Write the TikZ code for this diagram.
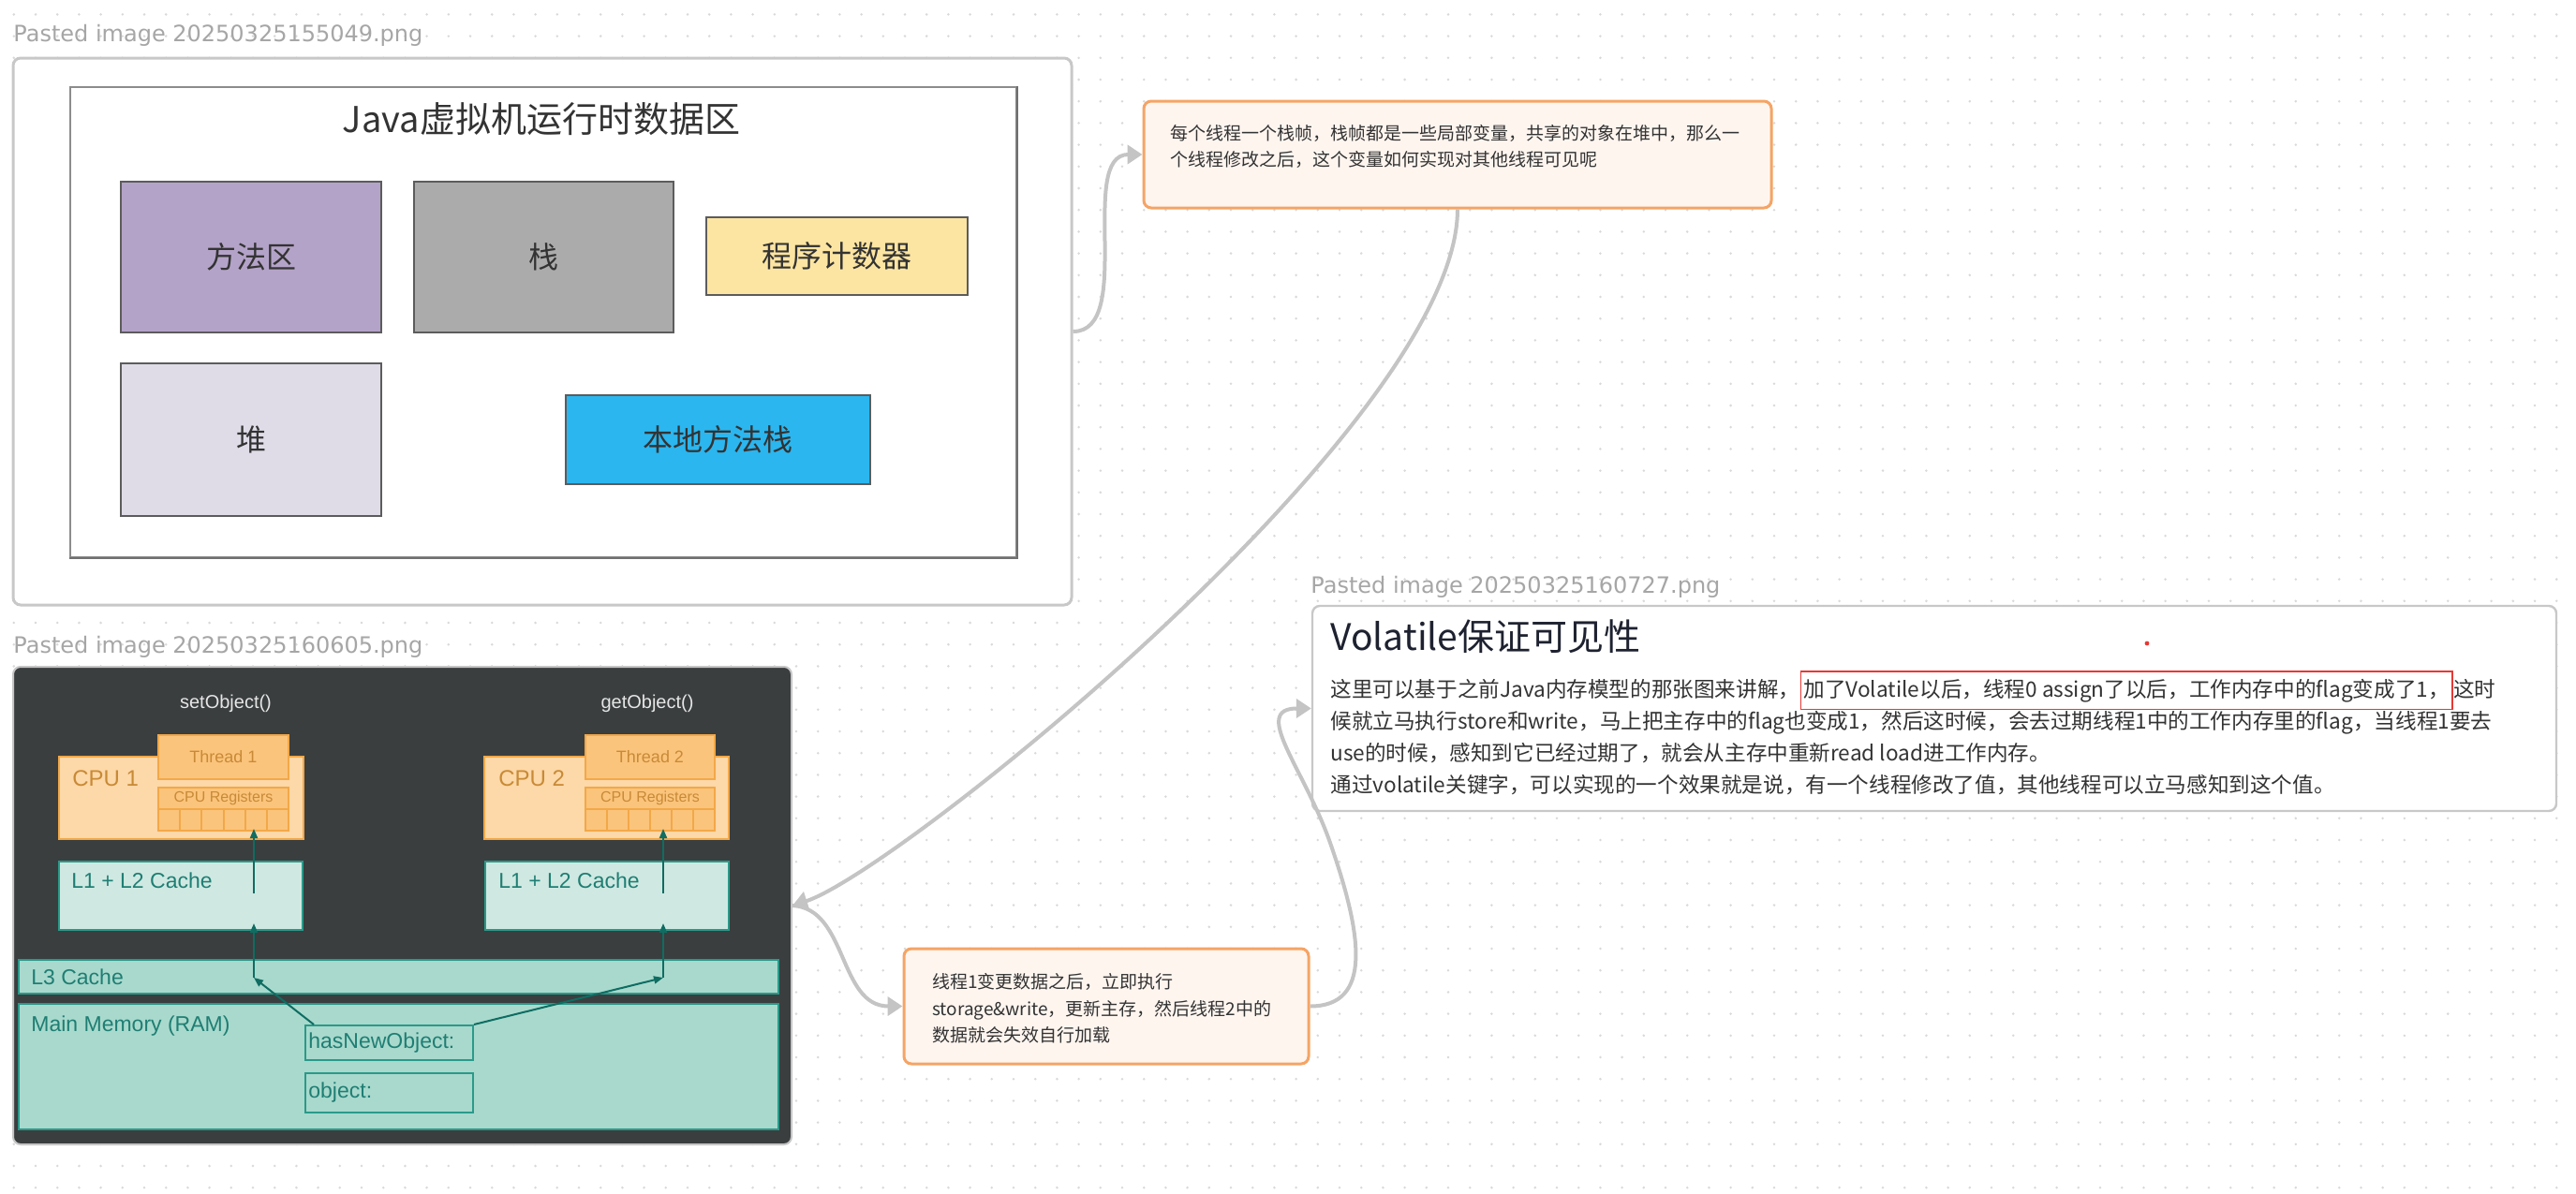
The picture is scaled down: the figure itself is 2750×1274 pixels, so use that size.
\documentclass[tikz,border=0pt]{standalone}
\usepackage{fontspec}
\setmainfont{Noto Sans CJK SC}
\newfontfamily\arialf{Liberation Sans}
\newfontfamily\dejaf{DejaVu Sans}
\usetikzlibrary{arrows.meta,calc}
\definecolor{dotc}{HTML}{D9D9D9}
\definecolor{lblc}{HTML}{A6A6A6}
\definecolor{boxborder}{HTML}{C8C8C8}
\definecolor{framec}{HTML}{8C8C8C}
\definecolor{fangc}{HTML}{B4A3C8}
\definecolor{zhanc}{HTML}{ABABAB}
\definecolor{pcc}{HTML}{FCE5A2}
\definecolor{duic}{HTML}{DFDCE8}
\definecolor{natc}{HTML}{2BB6EF}
\definecolor{inkc}{HTML}{333333}
\definecolor{notefill}{HTML}{FEF5EF}
\definecolor{noteborder}{HTML}{F5A465}
\definecolor{connc}{HTML}{C4C4C4}
\definecolor{redc}{HTML}{E53935}
\definecolor{darkc}{HTML}{3A3E3F}
\definecolor{orb}{HTML}{F2A848}
\definecolor{cpuf}{HTML}{FDD8A8}
\definecolor{thrf}{HTML}{FBC47C}
\definecolor{ortext}{HTML}{C88A36}
\definecolor{l1f}{HTML}{CFE9E2}
\definecolor{tealb}{HTML}{2A9A8A}
\definecolor{l3f}{HTML}{A9D9CD}
\definecolor{tealt}{HTML}{1F7E73}
\definecolor{arrt}{HTML}{0F6D62}
\definecolor{wtext}{HTML}{E6E6E6}
\definecolor{titlec}{HTML}{1E2230}
\tikzset{
  lbl/.style={font=\dejaf\fontsize{12pt}{14pt}\selectfont, text=lblc, anchor=west, inner sep=0},
  jbox/.style={draw=inkc!80, line width=0.8pt, font=\fontsize{16pt}{18pt}\selectfont, text=inkc, inner sep=0},
  notebox/.style={draw=noteborder, fill=notefill, line width=1.5pt, rounded corners=4pt, inner sep=0},
  notetext/.style={font=\fontsize{9.5pt}{14.25pt}\selectfont, text=inkc, align=left, anchor=west, inner sep=0},
  vtext/.style={font=\fontsize{11.3pt}{17pt}\selectfont, text=inkc, inner sep=0, anchor=base west},
  cpubox/.style={draw=orb, fill=cpuf, line width=1pt, inner sep=0},
  thrbox/.style={draw=orb, fill=thrf, line width=1pt, inner sep=0, font=\arialf\fontsize{9pt}{10pt}\selectfont, text=ortext},
  cpulbl/.style={font=\arialf\fontsize{12pt}{13pt}\selectfont, text=ortext, anchor=west, inner sep=0},
  cachebox/.style={draw=tealb, fill=l1f, line width=1pt, inner sep=0},
  membox/.style={draw=tealb, fill=l3f, line width=1pt, inner sep=0},
  teallbl/.style={font=\arialf\fontsize{11.5pt}{13pt}\selectfont, text=tealt, anchor=west, inner sep=0},
  tealarr/.style={draw=arrt, line width=1pt, -{Triangle[length=5pt,width=4pt]}},
  conn/.style={draw=connc, line width=2pt, -{Triangle[length=8pt,width=10pt]}}
}
\begin{document}
\begin{tikzpicture}[x=0.5pt,y=-0.5pt]
\useasboundingbox (0,0) rectangle (2750,1274);
\fill[white] (0,0) rectangle (2750,1274);
% dot grid
\foreach \i in {0,...,118}{
  \foreach \j in {0,...,54}{
    \fill[dotc] ({14.8+\i*23.2},{15.4+\j*23.2}) circle[radius=0.7pt];
  }
}
% ---------------- box 1 ----------------
\node[lbl] (lbl1) at (14,38) {Pasted image 20250325155049.png};
\node[draw=boxborder, fill=white, line width=1.5pt, rounded corners=4pt, minimum width=565pt, minimum height=292pt, inner sep=0] (box1) at (579,354) {};
\node[draw=framec, line width=1pt, minimum width=505pt, minimum height=251pt, inner sep=0] (frame) at (580,344) {};
\draw[inkc!70, line width=1pt] (frame.south west) -- (frame.south east) -- (frame.north east);
\node[font=\fontsize{19pt}{21pt}\selectfont, text=inkc, inner sep=0] (jtitle) at (578,127) {Java虚拟机运行时数据区};
\node[jbox, fill=fangc, minimum width=139pt, minimum height=80.5pt] (fang) at (268,274.5) {方法区};
\node[jbox, fill=zhanc, minimum width=138.5pt, minimum height=80.5pt] (zhan) at (580.5,274.5) {栈};
\node[jbox, fill=pcc, minimum width=139.5pt, minimum height=41.5pt] (pc) at (893.5,273.5) {程序计数器};
\node[jbox, fill=duic, minimum width=139pt, minimum height=81.5pt] (dui) at (268,469.5) {堆};
\node[jbox, fill=natc, minimum width=162.5pt, minimum height=47.5pt] (nat) at (766.5,469.5) {本地方法栈};
% ---------------- note 1 ----------------
\node[notebox, minimum width=335pt, minimum height=57pt] (note1) at (1556,165) {};
\node[notetext] (note1t) at (1249,156.5) {每个线程一个栈帧，栈帧都是一些局部变量，共享的对象在堆中，那么一\\个线程修改之后，这个变量如何实现对其他线程可见呢};
% ---------------- box 2 ----------------
\node[lbl] (lbl2) at (14,691) {Pasted image 20250325160605.png};
\node[draw=gray!45, fill=darkc, line width=1pt, rounded corners=4pt, minimum width=415.5pt, minimum height=255pt, inner sep=0] (box2) at (429.5,967) {};
\node[font=\arialf\fontsize{10pt}{11pt}\selectfont, text=wtext, inner sep=0] (setobj) at (241,751) {setObject()};
\node[font=\arialf\fontsize{10pt}{11pt}\selectfont, text=wtext, inner sep=0] (getobj) at (691,751) {getObject()};
% CPU 1
\node[cpubox, minimum width=130.5pt, minimum height=44pt] (cpu1) at (193.5,852) {};
\node[thrbox, minimum width=69.5pt, minimum height=23.5pt] (thr1) at (238.5,808.5) {Thread 1};
\node[cpulbl] (cpu1l) at (77,831) {CPU 1};
\node[thrbox, font=\arialf\fontsize{8pt}{9pt}\selectfont, minimum width=69.5pt, minimum height=11.5pt] (reg1) at (238.5,852.5) {CPU Registers};
\foreach \k in {0,...,5}{\draw[draw=orb, fill=thrf, line width=1pt] ({169+\k*23.17},864) rectangle ++(23.17,23);}
% CPU 2
\node[cpubox, minimum width=130.5pt, minimum height=44pt] (cpu2) at (647.5,852) {};
\node[thrbox, minimum width=69pt, minimum height=23.5pt] (thr2) at (694,808.5) {Thread 2};
\node[cpulbl] (cpu2l) at (532,831) {CPU 2};
\node[thrbox, font=\arialf\fontsize{8pt}{9pt}\selectfont, minimum width=69pt, minimum height=11.5pt] (reg2) at (694,852.5) {CPU Registers};
\foreach \k in {0,...,5}{\draw[draw=orb, fill=thrf, line width=1pt] ({625+\k*23},864) rectangle ++(23,23);}
% caches
\node[cachebox, minimum width=130pt, minimum height=36.5pt] (l1a) at (193,956.5) {};
\node[teallbl] (l1al) at (76,940) {L1 + L2 Cache};
\node[cachebox, minimum width=130pt, minimum height=36.5pt] (l1b) at (648,956.5) {};
\node[teallbl] (l1bl) at (532,940) {L1 + L2 Cache};
\node[membox, minimum width=405.5pt, minimum height=18pt] (l3) at (425.5,1043) {};
\node[teallbl] (l3l) at (33,1043) {L3 Cache};
\node[membox, minimum width=405.5pt, minimum height=67pt] (mm) at (425.5,1139) {};
\node[teallbl] (mml) at (33,1096) {Main Memory (RAM)};
\node[membox, minimum width=89.5pt, minimum height=18.5pt] (hasnew) at (415.5,1113.5) {};
\node[teallbl] (hasnewl) at (329,1113.5) {hasNewObject:};
\node[membox, minimum width=89.5pt, minimum height=21pt] (obj) at (415.5,1167) {};
\node[teallbl] (objl) at (329,1167) {object:};
% teal arrows
\coordinate (cl) at (271,1044);
\coordinate (cla) at (271,986);
\coordinate (clb) at (271,954);
\coordinate (clc) at (271,885);
\coordinate (cr) at (708,1044);
\coordinate (cra) at (708,986);
\coordinate (crb) at (708,954);
\coordinate (crc) at (708,885);
\draw[tealarr] ($(hasnew.north west)+(10,0)$) -- (cl);
\draw[tealarr] (cl) -- (cla);
\draw[tealarr] (clb) -- (clc);
\draw[tealarr] (hasnew.north east) -- (cr);
\draw[tealarr] (cr) -- (cra);
\draw[tealarr] (crb) -- (crc);
% ---------------- note 2 ----------------
\node[notebox, minimum width=216pt, minimum height=61.5pt] (note2) at (1181,1074.5) {};
\node[notetext] (note2t) at (995,1077) {线程1变更数据之后，立即执行\\storage\&write，更新主存，然后线程2中的\\数据就会失效自行加载};
% ---------------- volatile box ----------------
\node[lbl] (lbl3) at (1399,627) {Pasted image 20250325160727.png};
\node[draw=boxborder, fill=white, line width=1.2pt, rounded corners=4pt, minimum width=664pt, minimum height=109.5pt, inner sep=0] (vbox) at (2065,756.5) {};
\node[anchor=west, font=\fontsize{19.5pt}{21pt}\selectfont, text=titlec, inner sep=0] (vtitle) at (1420,680) {Volatile保证可见性};
\fill[redc] (2292,687) circle[radius=1.2pt];
\node[vtext] (v1a) at (1420,744) {这里可以基于之前Java内存模型的那张图来讲解，};
\node[vtext, draw=redc, line width=0.8pt, inner xsep=1.5pt, inner ysep=4pt] (v1b) at (v1a.base east) {加了Volatile以后，线程0 assign了以后，工作内存中的flag变成了1，};
\node[vtext] (v1c) at (v1b.base east) {这时};
\node[vtext] (v2) at (1420,778) {候就立马执行store和write，马上把主存中的flag也变成1，然后这时候，会去过期线程1中的工作内存里的flag，当线程1要去};
\node[vtext] (v3) at (1420,812) {use的时候，感知到它已经过期了，就会从主存中重新read load进工作内存。};
\node[vtext] (v4) at (1420,846) {通过volatile关键字，可以实现的一个效果就是说，有一个线程修改了值，其他线程可以立马感知到这个值。};
% ---------------- connectors ----------------
\draw[conn] (box1.east) .. controls (1212,354) and (1150,165) .. (note1.west);
\draw[conn] (note1.south) .. controls (1556,450) and (960,930) .. (box2.east);
\draw[conn] (box2.east) .. controls (905,970) and (895,1074.5) .. (note2.west);
\coordinate (c4mid) at (1420,900);
\draw[conn] (note2.east) .. controls (1465,1074.5) and (1455,1000) .. (c4mid) .. controls (1392,820) and (1335,756.5) .. (vbox.west);
\end{tikzpicture}
\end{document}
